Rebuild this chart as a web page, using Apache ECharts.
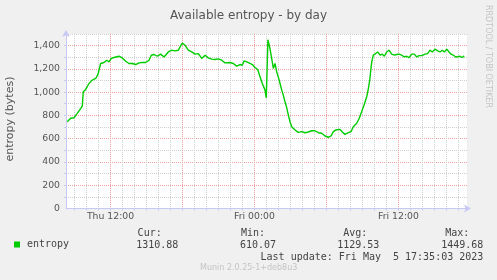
<!DOCTYPE html>
<html><head><meta charset="utf-8">
<script src="https://cdn.jsdelivr.net/npm/echarts@6/dist/echarts.min.js"></script>
<style>html,body{margin:0;padding:0;background:#f0f0f0}#c{width:497px;height:280px}</style>
</head><body><div id="c"></div>
<script>
// hours since Thu 00:00
const hours = [8.40,8.68,8.96,9.23,9.52,9.65,9.73,9.93,10.21,10.48,10.77,10.96,11.18,11.46,11.68,11.88,12.07,12.29,12.71,12.98,13.27,13.54,13.82,14.10,14.38,14.65,14.93,15.21,15.40,15.63,15.90,16.18,16.46,16.82,17.10,17.38,17.65,17.79,17.98,18.21,18.48,18.77,19.04,19.32,19.60,19.73,19.88,20.15,20.43,20.71,20.98,21.27,21.54,21.68,21.96,22.23,22.52,22.79,22.98,23.13,23.35,23.63,23.82,24.04,24.27,24.46,24.65,24.88,24.98,25.12,25.29,25.43,25.57,25.71,25.85,25.98,26.13,26.27,26.40,26.54,26.68,26.82,26.96,27.10,27.38,27.65,27.93,28.21,28.48,28.77,29.04,29.32,29.60,29.88,30.15,30.38,30.57,30.77,30.93,31.13,31.32,31.54,31.82,32.04,32.23,32.52,32.73,32.93,33.13,33.35,33.47,33.60,33.70,33.77,33.90,34.10,34.27,34.46,34.65,34.82,35.02,35.21,35.43,35.65,35.85,36.04,36.27,36.48,36.68,36.88,37.10,37.32,37.52,37.71,37.93,38.21,38.43,38.63,38.82,39.04,39.27,39.46,39.65,39.82,40.02,40.21,40.38,40.57,40.77,40.93,41.13,41.32,41.48];
const entropy = [745,775,780,817,860,880,1003,1023,1074,1103,1117,1154,1246,1254,1274,1260,1289,1297,1308,1294,1265,1246,1246,1237,1251,1254,1254,1274,1317,1323,1308,1326,1302,1345,1360,1354,1360,1345,1422,1403,1360,1345,1326,1331,1289,1274,1317,1294,1283,1280,1285,1274,1251,1265,1254,1246,1223,1237,1231,1268,1260,1246,1237,1211,1194,1131,1074,1017,951,1450,1374,1289,1203,1246,1174,1131,1074,1017,974,917,869,803,745,703,674,654,660,651,657,668,668,651,646,623,612,623,660,674,665,680,657,637,651,660,703,732,775,831,889,960,1020,1100,1200,1260,1317,1331,1345,1317,1326,1308,1345,1360,1326,1317,1323,1326,1317,1302,1308,1297,1326,1326,1302,1313,1313,1326,1331,1360,1345,1369,1354,1345,1360,1345,1369,1345,1326,1317,1302,1289,1308,1297,1311];
const xLabelHours = [12, 24, 36];
const xLabelTexts = ['Thu 12:00', 'Fri 00:00', 'Fri 12:00'];
const xMajorHours = [12, 18, 24, 30, 36];
const xMinorHours = [9,10,11,12,13,14,15,16,17,18,19,20,21,22,23,24,25,26,27,28,29,30,31,32,33,34,35,36,37,38,39,40,41];
const yLabelValues = [0, 200, 400, 600, 800, 1000, 1200, 1400];
const yMajorValues = [200, 400, 600, 800, 1000, 1200, 1400];
const yMinorValues = [100, 200, 300, 400, 500, 600, 700, 800, 900, 1000, 1100, 1200, 1300, 1400, 1500];
const statHeads = ['Cur:', 'Min:', 'Avg:', 'Max:'];
const statValues = ['1310.88', '610.07', '1129.53', '1449.68'];
const xMin = 8.292, xMax = 41.708, yMin = 0, yMax = 1500;

const AX = '#c8c8f4', RED = '#f0a0a0', GREY = '#cfcfcf', TXT = '#555';
const SANS = '"DejaVu Sans"', MONO = '"DejaVu Sans Mono"';
const chart = echarts.init(document.getElementById('c'), null, {renderer: 'canvas'});

const headX = [161.7, 265, 367.3, 469.3];
const valX = [178.3, 276, 379.3, 483.3];
const graphics = [
  {type:'rect', shape:{x:0,y:0,width:497,height:280}, style:{fill:'#f0f0f0'}, z:-10, silent:true},
  {type:'text', x:10.5, y:119, rotation:Math.PI/2, style:{text:'entropy (bytes)', font:'11px '+SANS, fill:TXT, align:'center', verticalAlign:'middle'}},
  {type:'text', x:488.5, y:56.5, rotation:-Math.PI/2, style:{text:'RRDTOOL / TOBI OETIKER', font:'8px '+SANS, fill:'#c4c4c4', align:'center', verticalAlign:'middle'}},
  {type:'text', x:483.3, y:257.7, style:{text:'Last update: Fri May  5 17:35:03 2023', font:'10px '+MONO, fill:'#444', align:'right', verticalAlign:'middle'}},
  {type:'text', x:200, y:268.3, style:{text:'Munin 2.0.25-1+deb8u3', font:'8px '+SANS, fill:'#c4c4c4', align:'left', verticalAlign:'middle'}}
];
statHeads.forEach((t, i) => {
  graphics.push({type:'text', x:headX[i], y:233.7, style:{text:t, font:'10px '+MONO, fill:'#444', align:'right', verticalAlign:'middle'}});
  graphics.push({type:'text', x:valX[i], y:245.7, style:{text:statValues[i], font:'10px '+MONO, fill:'#444', align:'right', verticalAlign:'middle'}});
});

const option = {
  animation: false,
  backgroundColor: '#f0f0f0',
  title: {text:'Available entropy - by day', left:'center', top:5, textStyle:{fontFamily:SANS, fontSize:12, fontWeight:'normal', color:TXT}},
  legend: {left:14, top:239.5, padding:0, itemWidth:6, itemHeight:6, icon:'rect', data:['entropy'],
    textStyle:{fontFamily:MONO, fontSize:10, color:'#444', padding:[0,0,0,2]}},
  grid: {left:66, right:30, top:33.9, bottom:71.5, show:true, backgroundColor:'#ffffff', borderWidth:0},
  xAxis: [
    {type:'value', min:xMin, max:xMax, position:'bottom',
     axisLine:{show:false}, axisLabel:{show:false},
     axisTick:{show:true, customValues:xMinorHours, length:2, lineStyle:{color:AX}},
     splitLine:{show:true, lineStyle:{color:GREY, type:[1,1], width:1}}},
    {type:'value', min:xMin, max:xMax, position:'bottom',
     axisLine:{show:true, lineStyle:{color:AX, width:1}, symbol:['none','arrow'], symbolSize:[6,7], symbolOffset:[0,4]},
     axisTick:{show:false, customValues:xMajorHours},
     axisLabel:{show:true, customValues:xLabelHours, margin:4, fontFamily:SANS, fontSize:9.3, color:TXT,
       formatter: v => { const i = xLabelHours.indexOf(Math.round(v)); return i >= 0 ? xLabelTexts[i] : ''; }},
     splitLine:{show:true, lineStyle:{color:RED, type:[1,1], width:1}}}
  ],
  yAxis: [
    {type:'value', min:yMin, max:yMax, position:'left',
     axisLine:{show:false}, axisLabel:{show:false},
     axisTick:{show:true, customValues:yMinorValues, length:2, lineStyle:{color:AX}},
     splitLine:{show:true, lineStyle:{color:GREY, type:[1,1], width:1}}},
    {type:'value', min:yMin, max:yMax, position:'left',
     axisLine:{show:true, lineStyle:{color:AX, width:1}, symbol:['none','arrow'], symbolSize:[6,7], symbolOffset:[0,4]},
     axisTick:{show:false, customValues:yMajorValues},
     axisLabel:{show:true, customValues:yLabelValues, margin:6, fontFamily:SANS, fontSize:9.3, color:TXT},
     splitLine:{show:true, lineStyle:{color:RED, type:[1,1], width:1}}}
  ],
  series: [{
    name:'entropy', type:'line', xAxisIndex:0, yAxisIndex:0, showSymbol:false, symbol:'none',
    color:'#00cc00', lineStyle:{color:'#00cc00', width:1.4}, itemStyle:{color:'#00cc00'},
    data: hours.map((h, i) => [h, entropy[i]]), z:5
  }],
  graphic: graphics
};
chart.setOption(option);
</script></body></html>
